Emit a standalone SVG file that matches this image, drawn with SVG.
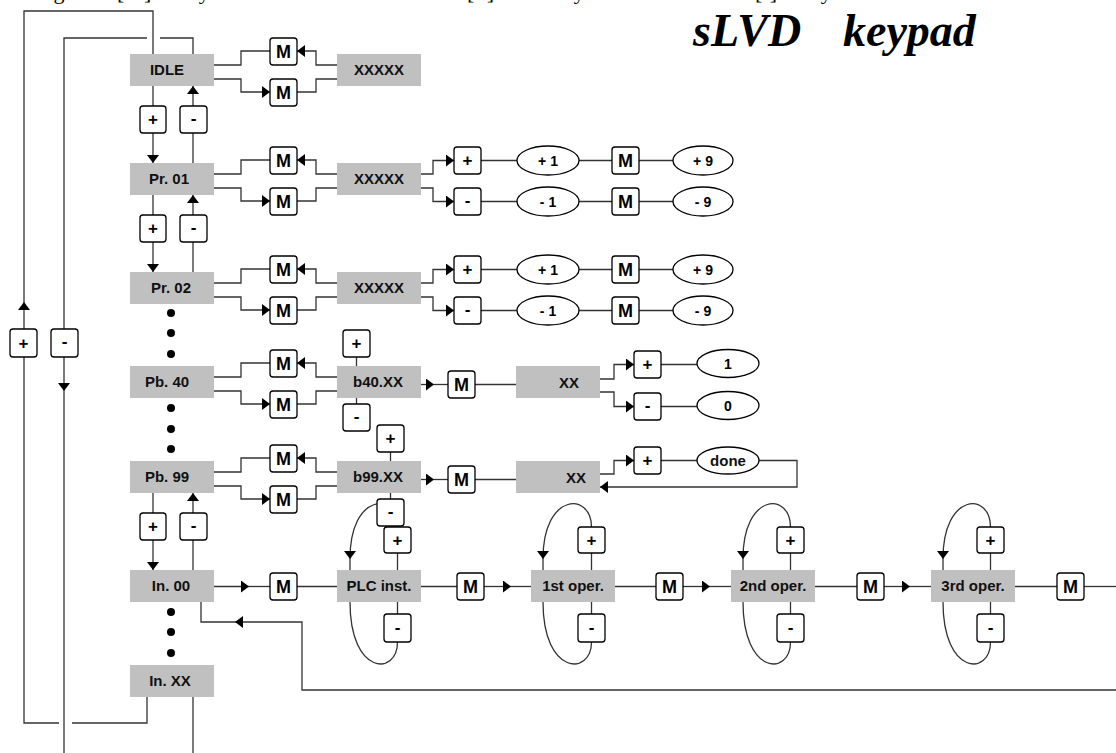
<svg xmlns="http://www.w3.org/2000/svg" width="1116" height="753" viewBox="0 0 1116 753">
<defs>
<marker id="ah" markerWidth="8" markerHeight="12" refX="8" refY="6" orient="auto" markerUnits="userSpaceOnUse"><path d="M0,0 L8,6 L0,12 z" fill="#000"/></marker>
<style>
.box{fill:#c0c0c0;stroke:none}
.bt{font-family:"Liberation Sans",Arial,sans-serif;font-weight:bold;font-size:15px;fill:#111;text-anchor:middle}
.key{fill:#fff;stroke:#000;stroke-width:1.3}
.kt{font-family:"Liberation Sans",Arial,sans-serif;font-weight:bold;font-size:18px;fill:#000;text-anchor:middle}
.pt{font-family:"Liberation Sans",Arial,sans-serif;font-weight:bold;font-size:17px;fill:#000;text-anchor:middle}
.ell{fill:#fff;stroke:#000;stroke-width:1.3}
.et{font-family:"Liberation Sans",Arial,sans-serif;font-weight:bold;font-size:14px;fill:#000;text-anchor:middle}
.c path{fill:none;stroke:#333;stroke-width:1.3}
.a{marker-end:url(#ah)}
.dot{fill:#000}
.title{font-family:"Liberation Serif","Times New Roman",serif;font-weight:bold;font-style:italic;font-size:46px;fill:#000}
.top{font-family:"Liberation Serif","Times New Roman",serif;font-size:22px;fill:#000}
</style>
</defs>
<rect width="1116" height="753" fill="#fff"/>
<text class="top" y="-1"><tspan x="12">Using</tspan><tspan x="117">[M]</tspan><tspan x="178">key</tspan><tspan x="467">[+]</tspan><tspan x="553">key</tspan><tspan x="755">[-]</tspan><tspan x="800">key</tspan></text>
<text class="title" y="46"><tspan x="693">sLVD</tspan><tspan x="843">keypad</tspan></text>

<g class="c" id="connectors">
<path d="M147,697 V723 H72"/><path d="M59,723 H24 V357"/><path class="a" d="M24,329 V302"/><path d="M24,302 V11 H153 V54"/>
<path d="M193,54 V38 H160"/><path d="M147,38 H64 V329"/><path class="a" d="M64,357 V391"/><path d="M64,391 V753"/>
<path d="M193,697 V753"/>
<path d="M153,86 V106"/><path class="a" d="M153,133 V163"/><path d="M193,163 V133"/><path class="a" d="M193,106 V86"/>
<path d="M153,195 V215"/><path class="a" d="M153,242 V272"/><path d="M193,272 V242"/><path class="a" d="M193,215 V195"/>
<path d="M153,493 V513"/><path class="a" d="M153,540 V570"/><path d="M193,570 V540"/><path class="a" d="M193,513 V493"/>
<path d="M214,65 H241 V51 H270"/><path class="a" d="M337,65 H316 V51 H297"/><path class="a" d="M214,79 H241 V92 H270"/><path d="M297,92 H316 V79 H337"/>
<path d="M214,174 H241 V160 H270"/><path class="a" d="M337,174 H316 V160 H297"/><path class="a" d="M214,188 H241 V201 H270"/><path d="M297,201 H316 V188 H337"/>
<path d="M214,283 H241 V269 H270"/><path class="a" d="M337,283 H316 V269 H297"/><path class="a" d="M214,297 H241 V310 H270"/><path d="M297,310 H316 V297 H337"/>
<path d="M214,377 H241 V363 H270"/><path class="a" d="M337,377 H316 V363 H297"/><path class="a" d="M214,391 H241 V404 H270"/><path d="M297,404 H316 V391 H337"/>
<path d="M214,472 H241 V458 H270"/><path class="a" d="M337,472 H316 V458 H297"/><path class="a" d="M214,486 H241 V499 H270"/><path d="M297,499 H316 V486 H337"/>
<path class="a" d="M421,174 H433 V160.5 H454"/><path d="M481,160.5 H517"/><path d="M579,160.5 H612"/><path d="M639,160.5 H673"/>
<path class="a" d="M421,188 H433 V201.5 H454"/><path d="M481,201.5 H517"/><path d="M579,201.5 H612"/><path d="M639,201.5 H673"/>
<path class="a" d="M421,283 H433 V269.5 H454"/><path d="M481,269.5 H517"/><path d="M579,269.5 H612"/><path d="M639,269.5 H673"/>
<path class="a" d="M421,297 H433 V310.5 H454"/><path d="M481,310.5 H517"/><path d="M579,310.5 H612"/><path d="M639,310.5 H673"/>
<path d="M356.5,357 V366"/><path d="M356.5,398 V404"/>
<path class="a" d="M421,384.5 H434"/><path d="M434,384.5 H448"/><path d="M475,384.5 H516"/>
<path class="a" d="M600,379 H614 V364.5 H634"/><path d="M661,364.5 H697"/>
<path class="a" d="M600,392 H614 V406.5 H634"/><path d="M661,406.5 H697"/>
<path d="M390.5,452 V461"/><path d="M390.5,493 V499"/>
<path class="a" d="M421,479.5 H434"/><path d="M434,479.5 H448"/><path d="M475,479.5 H516"/>
<path class="a" d="M600,474 H614 V460.5 H634"/><path d="M661,460.5 H697"/>
<path class="a" d="M759,460.5 H797 V487 H600"/>
<path class="a" d="M214,586.5 H249"/><path d="M249,586.5 H270"/><path d="M297,586.5 H337"/>
<path d="M421,586.5 H457"/><path class="a" d="M484,586.5 H511"/><path d="M511,586.5 H531"/>
<path d="M615,586.5 H656"/><path class="a" d="M683,586.5 H710"/><path d="M710,586.5 H731"/>
<path d="M814,586.5 H857"/><path class="a" d="M884,586.5 H910"/><path d="M910,586.5 H931"/>
<path d="M1014,586.5 H1057"/><path d="M1084,586.5 H1116"/>
<path d="M397.5,553 V570"/><path d="M397.5,602 V614"/>
<path class="a" d="M397.5,527 C397.5,492 350,492 350,559"/><path d="M350,559 V570"/><path d="M350,602 C350,676 397.5,676 397.5,642"/>
<path d="M591.5,553 V570"/><path d="M591.5,602 V614"/>
<path class="a" d="M591.5,527 C591.5,492 543,492 543,559"/><path d="M543,559 V570"/><path d="M543,602 C543,676 591.5,676 591.5,642"/>
<path d="M790.5,553 V570"/><path d="M790.5,602 V614"/>
<path class="a" d="M790.5,527 C790.5,492 743,492 743,559"/><path d="M743,559 V570"/><path d="M743,602 C743,676 790.5,676 790.5,642"/>
<path d="M990.5,553 V570"/><path d="M990.5,602 V614"/>
<path class="a" d="M990.5,527 C990.5,492 943,492 943,559"/><path d="M943,559 V570"/><path d="M943,602 C943,676 990.5,676 990.5,642"/>
<path d="M1116,690 H302 V622 H235" class="a"/><path d="M235,622 H201 V602"/>
</g>

<g id="dots">
<circle class="dot" cx="171" cy="313" r="4"/><circle class="dot" cx="171" cy="333" r="4"/><circle class="dot" cx="171" cy="354" r="4"/>
<circle class="dot" cx="171" cy="408" r="4"/><circle class="dot" cx="171" cy="429" r="4"/><circle class="dot" cx="171" cy="449" r="4"/>
<circle class="dot" cx="171" cy="612" r="4"/><circle class="dot" cx="171" cy="632" r="4"/><circle class="dot" cx="171" cy="653" r="4"/>
</g>

<g id="n-idle"><rect class="box" x="130" y="54" width="84" height="32"/><text class="bt" x="167" y="75">IDLE</text></g>
<g id="n-idle-val"><rect class="box" x="337" y="54" width="84" height="32"/><text class="bt" x="379" y="75">XXXXX</text></g>
<g id="n-pr01"><rect class="box" x="130" y="163" width="84" height="32"/><text class="bt" x="169" y="184">Pr. 01</text></g>
<g id="n-pr01-val"><rect class="box" x="337" y="163" width="84" height="32"/><text class="bt" x="379" y="184">XXXXX</text></g>
<g id="n-pr02"><rect class="box" x="130" y="272" width="84" height="32"/><text class="bt" x="171" y="293">Pr. 02</text></g>
<g id="n-pr02-val"><rect class="box" x="337" y="272" width="84" height="32"/><text class="bt" x="379" y="293">XXXXX</text></g>
<g id="n-pb40"><rect class="box" x="130" y="366" width="84" height="32"/><text class="bt" x="167" y="387">Pb. 40</text></g>
<g id="n-b40"><rect class="box" x="337" y="366" width="84" height="32"/><text class="bt" x="378" y="387">b40.XX</text></g>
<g id="n-b40-xx"><rect class="box" x="516" y="366" width="84" height="32"/><text class="bt" x="569" y="388">XX</text></g>
<g id="n-pb99"><rect class="box" x="130" y="461" width="84" height="32"/><text class="bt" x="167" y="482">Pb. 99</text></g>
<g id="n-b99"><rect class="box" x="337" y="461" width="84" height="32"/><text class="bt" x="378" y="482">b99.XX</text></g>
<g id="n-b99-xx"><rect class="box" x="516" y="461" width="84" height="32"/><text class="bt" x="576" y="483">XX</text></g>
<g id="n-in00"><rect class="box" x="130" y="570" width="84" height="32"/><text class="bt" x="171" y="591">In. 00</text></g>
<g id="n-inxx"><rect class="box" x="130" y="665" width="84" height="32"/><text class="bt" x="170" y="686">In. XX</text></g>
<g id="n-plc"><rect class="box" x="337" y="570" width="84" height="32"/><text class="bt" x="379" y="591">PLC inst.</text></g>
<g id="n-op1"><rect class="box" x="531" y="570" width="84" height="32"/><text class="bt" x="573" y="591">1st oper.</text></g>
<g id="n-op2"><rect class="box" x="731" y="570" width="84" height="32"/><text class="bt" x="773" y="591">2nd oper.</text></g>
<g id="n-op3"><rect class="box" x="931" y="570" width="84" height="32"/><text class="bt" x="973" y="591">3rd oper.</text></g>

<g id="e-p1a"><ellipse class="ell" cx="548" cy="160.5" rx="31" ry="14.5"/><text class="et" x="548" y="165.5">+ 1</text></g>
<g id="e-p9a"><ellipse class="ell" cx="703" cy="160.5" rx="30" ry="14.5"/><text class="et" x="703" y="165.5">+ 9</text></g>
<g id="e-m1a"><ellipse class="ell" cx="548" cy="201.5" rx="31" ry="14.5"/><text class="et" x="548" y="206.5">- 1</text></g>
<g id="e-m9a"><ellipse class="ell" cx="703" cy="201.5" rx="30" ry="14.5"/><text class="et" x="703" y="206.5">- 9</text></g>
<g id="e-p1b"><ellipse class="ell" cx="548" cy="269.5" rx="31" ry="14.5"/><text class="et" x="548" y="274.5">+ 1</text></g>
<g id="e-p9b"><ellipse class="ell" cx="703" cy="269.5" rx="30" ry="14.5"/><text class="et" x="703" y="274.5">+ 9</text></g>
<g id="e-m1b"><ellipse class="ell" cx="548" cy="310.5" rx="31" ry="14.5"/><text class="et" x="548" y="315.5">- 1</text></g>
<g id="e-m9b"><ellipse class="ell" cx="703" cy="310.5" rx="30" ry="14.5"/><text class="et" x="703" y="315.5">- 9</text></g>
<g id="e-one"><ellipse class="ell" cx="728" cy="363.5" rx="31" ry="14"/><text class="et" x="728" y="368.5">1</text></g>
<g id="e-zero"><ellipse class="ell" cx="728" cy="405.5" rx="31" ry="14"/><text class="et" x="728" y="410.5">0</text></g>
<g id="e-done"><ellipse class="ell" cx="728" cy="460.5" rx="31" ry="13.5"/><text class="bt" x="728" y="465.5">done</text></g>

<g id="keys">
<g id="k1"><rect class="key" x="270" y="38" width="27" height="27" rx="3"/><text class="kt" x="283.5" y="58">M</text></g>
<g id="k2"><rect class="key" x="270" y="79" width="27" height="27" rx="3"/><text class="kt" x="283.5" y="99">M</text></g>
<g id="k3"><rect class="key" x="140" y="106" width="26" height="27" rx="3"/><text class="pt" x="153" y="125">+</text></g>
<g id="k4"><rect class="key" x="180" y="106" width="27" height="27" rx="3"/><text class="pt" x="193.5" y="124">-</text></g>
<g id="k5"><rect class="key" x="270" y="147" width="27" height="27" rx="3"/><text class="kt" x="283.5" y="167">M</text></g>
<g id="k6"><rect class="key" x="270" y="188" width="27" height="27" rx="3"/><text class="kt" x="283.5" y="208">M</text></g>
<g id="k7"><rect class="key" x="454" y="147" width="27" height="27" rx="3"/><text class="pt" x="467.5" y="166">+</text></g>
<g id="k8"><rect class="key" x="454" y="188" width="27" height="27" rx="3"/><text class="pt" x="467.5" y="206">-</text></g>
<g id="k9"><rect class="key" x="612" y="147" width="27" height="27" rx="3"/><text class="kt" x="625.5" y="167">M</text></g>
<g id="k10"><rect class="key" x="612" y="188" width="27" height="27" rx="3"/><text class="kt" x="625.5" y="208">M</text></g>
<g id="k11"><rect class="key" x="140" y="215" width="26" height="27" rx="3"/><text class="pt" x="153" y="234">+</text></g>
<g id="k12"><rect class="key" x="180" y="215" width="27" height="27" rx="3"/><text class="pt" x="193.5" y="233">-</text></g>
<g id="k13"><rect class="key" x="270" y="256" width="27" height="27" rx="3"/><text class="kt" x="283.5" y="276">M</text></g>
<g id="k14"><rect class="key" x="270" y="297" width="27" height="27" rx="3"/><text class="kt" x="283.5" y="317">M</text></g>
<g id="k15"><rect class="key" x="454" y="256" width="27" height="27" rx="3"/><text class="pt" x="467.5" y="275">+</text></g>
<g id="k16"><rect class="key" x="454" y="297" width="27" height="27" rx="3"/><text class="pt" x="467.5" y="315">-</text></g>
<g id="k17"><rect class="key" x="612" y="256" width="27" height="27" rx="3"/><text class="kt" x="625.5" y="276">M</text></g>
<g id="k18"><rect class="key" x="612" y="297" width="27" height="27" rx="3"/><text class="kt" x="625.5" y="317">M</text></g>
<g id="k19"><rect class="key" x="10" y="329" width="27" height="28" rx="3"/><text class="pt" x="23.5" y="349">+</text></g>
<g id="k20"><rect class="key" x="51" y="329" width="27" height="28" rx="3"/><text class="pt" x="64.5" y="347">-</text></g>
<g id="k21"><rect class="key" x="343" y="330" width="27" height="27" rx="3"/><text class="pt" x="356.5" y="349">+</text></g>
<g id="k22"><rect class="key" x="270" y="350" width="27" height="27" rx="3"/><text class="kt" x="283.5" y="370">M</text></g>
<g id="k23"><rect class="key" x="270" y="391" width="27" height="27" rx="3"/><text class="kt" x="283.5" y="411">M</text></g>
<g id="k24"><rect class="key" x="343" y="404" width="27" height="27" rx="3"/><text class="pt" x="356.5" y="422">-</text></g>
<g id="k25"><rect class="key" x="448" y="371" width="27" height="27" rx="3"/><text class="kt" x="461.5" y="391">M</text></g>
<g id="k26"><rect class="key" x="634" y="351" width="27" height="27" rx="3"/><text class="pt" x="647.5" y="370">+</text></g>
<g id="k27"><rect class="key" x="634" y="393" width="27" height="27" rx="3"/><text class="pt" x="647.5" y="411">-</text></g>
<g id="k28"><rect class="key" x="377" y="425" width="27" height="27" rx="3"/><text class="pt" x="390.5" y="444">+</text></g>
<g id="k29"><rect class="key" x="270" y="445" width="27" height="27" rx="3"/><text class="kt" x="283.5" y="465">M</text></g>
<g id="k30"><rect class="key" x="270" y="486" width="27" height="27" rx="3"/><text class="kt" x="283.5" y="506">M</text></g>
<g id="k31"><rect class="key" x="448" y="466" width="27" height="27" rx="3"/><text class="kt" x="461.5" y="486">M</text></g>
<g id="k32"><rect class="key" x="634" y="447" width="27" height="27" rx="3"/><text class="pt" x="647.5" y="466">+</text></g>
<g id="k33"><rect class="key" x="377" y="499" width="27" height="27" rx="3"/><text class="pt" x="390.5" y="517">-</text></g>
<g id="k34"><rect class="key" x="140" y="513" width="26" height="27" rx="3"/><text class="pt" x="153" y="532">+</text></g>
<g id="k35"><rect class="key" x="180" y="513" width="27" height="27" rx="3"/><text class="pt" x="193.5" y="531">-</text></g>
<g id="k36"><rect class="key" x="384" y="527" width="27" height="26" rx="3"/><text class="pt" x="397.5" y="546">+</text></g>
<g id="k37"><rect class="key" x="578" y="527" width="27" height="26" rx="3"/><text class="pt" x="591.5" y="546">+</text></g>
<g id="k38"><rect class="key" x="777" y="527" width="27" height="26" rx="3"/><text class="pt" x="790.5" y="546">+</text></g>
<g id="k39"><rect class="key" x="977" y="527" width="27" height="26" rx="3"/><text class="pt" x="990.5" y="546">+</text></g>
<g id="k40"><rect class="key" x="270" y="573" width="27" height="27" rx="3"/><text class="kt" x="283.5" y="593">M</text></g>
<g id="k41"><rect class="key" x="457" y="573" width="27" height="27" rx="3"/><text class="kt" x="470.5" y="593">M</text></g>
<g id="k42"><rect class="key" x="656" y="573" width="27" height="27" rx="3"/><text class="kt" x="669.5" y="593">M</text></g>
<g id="k43"><rect class="key" x="857" y="573" width="27" height="27" rx="3"/><text class="kt" x="870.5" y="593">M</text></g>
<g id="k44"><rect class="key" x="1057" y="573" width="27" height="27" rx="3"/><text class="kt" x="1070.5" y="593">M</text></g>
<g id="k45"><rect class="key" x="384" y="614" width="27" height="28" rx="3"/><text class="pt" x="397.5" y="633">-</text></g>
<g id="k46"><rect class="key" x="578" y="614" width="27" height="28" rx="3"/><text class="pt" x="591.5" y="633">-</text></g>
<g id="k47"><rect class="key" x="777" y="614" width="27" height="28" rx="3"/><text class="pt" x="790.5" y="633">-</text></g>
<g id="k48"><rect class="key" x="977" y="614" width="27" height="28" rx="3"/><text class="pt" x="990.5" y="633">-</text></g>
</g>
</svg>
